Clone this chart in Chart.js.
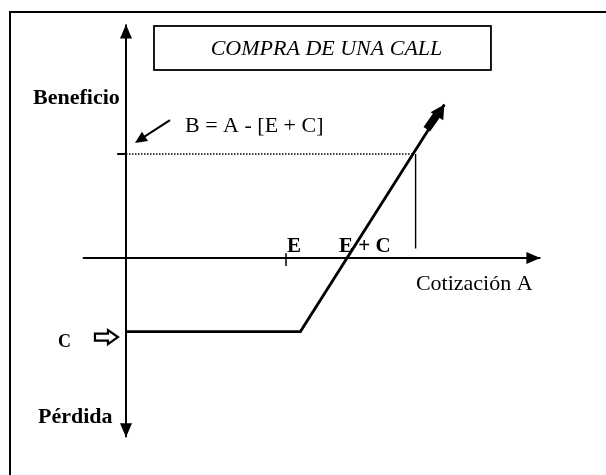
<!DOCTYPE html>
<html lang="es">
<head>
  <meta charset="UTF-8">
  <title>Compra de una call</title>
  <script src="https://cdn.jsdelivr.net/npm/chart.js"></script>
  <style>
    body { margin: 0; background: #fff; }
    canvas { display: block; }
  </style>
</head>
<body>
  <canvas id="graph" width="606" height="475"></canvas>

  <script>
    // Datos del diagrama (unidades del gráfico: eje vertical en x=0, eje horizontal en y=0)
    const strikeE = 10;          // E
    const primaC = -4.6;         // nivel de pérdida = prima C
    const kinkX = 10.9;          // donde empieza a subir la recta
    const tipPoint = { x: 19.9, y: 9.6 };
    const beneficioNivel = 6.5;  // nivel B marcado con punteado
    const cotizacionMarca = 18.1;

    const payoffX = [0, kinkX, tipPoint.x];
    const payoffY = [primaC, primaC, tipPoint.y];
    const xAxisRange = [-2.7, 25.9];
    const yAxisRange = [-11.2, 14.6];

    // Textos: [texto, x, y, fuente, alineación]
    const labels = [
      ["Beneficio", -5.81, 9.62, "bold 22px 'Liberation Serif'", "left"],
      ["B = A - [E + C]", 3.69, 7.87, "22px 'Liberation Serif'", "left"],
      ["E", 10.06, 0.37, "bold 21px 'Liberation Serif'", "left"],
      ["E + C", 13.31, 0.37, "bold 21px 'Liberation Serif'", "left"],
      ["Cotización A", 18.12, -2.0, "22px 'Liberation Serif'", "left"],
      ["C", -4.25, -5.56, "bold 18px 'Liberation Serif'", "left"],
      ["Pérdida", -5.5, -10.31, "bold 22px 'Liberation Serif'", "left"]
    ];
    const titleText = "COMPRA DE UNA CALL";
    const titleBox = { x0: 1.75, x1: 22.81, y0: 14.5, y1: 11.75 };

    function pts(xs, ys) {
      return xs.map((x, i) => ({ x: x, y: ys[i] }));
    }

    function lineSet(data, width, dash) {
      return {
        data: data,
        showLine: true,
        borderColor: "#000",
        borderWidth: width,
        borderDash: dash || [],
        pointRadius: 0,
        fill: false
      };
    }

    function arrowHead(ctx, x, y, ang, len, half) {
      ctx.beginPath();
      ctx.moveTo(x, y);
      ctx.lineTo(x - len * Math.cos(ang) + half * Math.sin(ang), y - len * Math.sin(ang) - half * Math.cos(ang));
      ctx.lineTo(x - len * Math.cos(ang) - half * Math.sin(ang), y - len * Math.sin(ang) + half * Math.cos(ang));
      ctx.closePath();
      ctx.fill();
    }

    const decor = {
      id: "decor",
      beforeDraw(chart) {
        const ctx = chart.ctx;
        ctx.save();
        ctx.fillStyle = "#fff";
        ctx.fillRect(0, 0, chart.width, chart.height);
        ctx.restore();
      },
      afterDatasetsDraw(chart) {
        const ctx = chart.ctx;
        const sx = chart.scales.x, sy = chart.scales.y;
        const px = v => sx.getPixelForValue(v);
        const py = v => sy.getPixelForValue(v);
        ctx.save();
        ctx.fillStyle = "#000";
        ctx.strokeStyle = "#000";

        // marco exterior
        ctx.lineWidth = 2;
        ctx.beginPath();
        ctx.moveTo(10, chart.height + 2);
        ctx.lineTo(10, 12);
        ctx.lineTo(chart.width + 2, 12);
        ctx.stroke();

        // puntas de los ejes
        arrowHead(ctx, px(xAxisRange[1]), py(0), 0, 14, 6);
        arrowHead(ctx, px(0), py(yAxisRange[1]), -Math.PI / 2, 14, 6);
        arrowHead(ctx, px(0), py(yAxisRange[0]), Math.PI / 2, 14, 6);

        // punta gruesa de la recta de beneficio
        const ax = px(tipPoint.x), ay = py(tipPoint.y);
        const ang = Math.atan2(ay - py(payoffY[1]), ax - px(payoffX[1]));
        arrowHead(ctx, ax, ay, ang, 14, 7.5);

        // flecha pequeña hacia el eje
        const fx0 = px(2.75), fy0 = py(8.62), fx1 = px(0.56), fy1 = py(7.19);
        ctx.lineWidth = 2;
        ctx.beginPath();
        ctx.moveTo(fx0, fy0);
        ctx.lineTo(fx1 + 6, fy1 - 4);
        ctx.stroke();
        arrowHead(ctx, fx1, fy1, Math.atan2(fy1 - fy0, fx1 - fx0), 12, 5.5);

        // flecha hueca junto a C
        const hx = px(-1.94), hy = py(-4.94);
        ctx.lineWidth = 2.2;
        ctx.beginPath();
        ctx.moveTo(hx, hy - 3.5);
        ctx.lineTo(hx + 13, hy - 3.5);
        ctx.lineTo(hx + 13, hy - 7);
        ctx.lineTo(hx + 23, hy);
        ctx.lineTo(hx + 13, hy + 7);
        ctx.lineTo(hx + 13, hy + 3.5);
        ctx.lineTo(hx, hy + 3.5);
        ctx.closePath();
        ctx.stroke();

        // recuadro del título
        ctx.lineWidth = 1.8;
        const bx0 = px(titleBox.x0), bx1 = px(titleBox.x1);
        const by0 = py(titleBox.y0), by1 = py(titleBox.y1);
        ctx.strokeRect(bx0, by0, bx1 - bx0, by1 - by0);
        ctx.font = "italic 22px 'Liberation Serif'";
        ctx.textAlign = "center";
        ctx.textBaseline = "alphabetic";
        ctx.fillText(titleText, (bx0 + bx1) / 2 + 4, py(12.69));

        // textos
        labels.forEach(([t, x, y, font, align]) => {
          ctx.font = font;
          ctx.textAlign = align;
          ctx.fillText(t, px(x), py(y));
        });
        ctx.restore();
      }
    };

    const ctx = document.getElementById("graph").getContext("2d");
    window.chart = new Chart(ctx, {
      type: "scatter",
      data: {
        datasets: [
          lineSet(pts(xAxisRange, [0, 0]), 2),
          lineSet(pts([0, 0], yAxisRange), 2),
          lineSet(pts(payoffX, payoffY), 2.8),
          lineSet(pts([0, 17.9], [beneficioNivel, beneficioNivel]), 1.5, [1.5, 1.5]),
          lineSet(pts([cotizacionMarca, cotizacionMarca], [beneficioNivel, 0.6]), 1.4),
          lineSet(pts([strikeE, strikeE], [0.3, -0.5]), 1.5),
          lineSet(pts([-0.55, 0], [beneficioNivel, beneficioNivel]), 2),
          lineSet(pts([18.8, 19.5], [8.05, 9.05]), 8)
        ]
      },
      options: {
        responsive: false,
        animation: false,
        devicePixelRatio: 1,
        layout: { padding: 0 },
        plugins: {
          legend: { display: false },
          tooltip: { enabled: false },
          title: { display: false }
        },
        scales: {
          x: { type: "linear", min: -7.875, max: 30, display: false },
          y: { type: "linear", min: -13.5625, max: 16.125, display: false }
        }
      },
      plugins: [decor]
    });
  </script>
</body>
</html>
